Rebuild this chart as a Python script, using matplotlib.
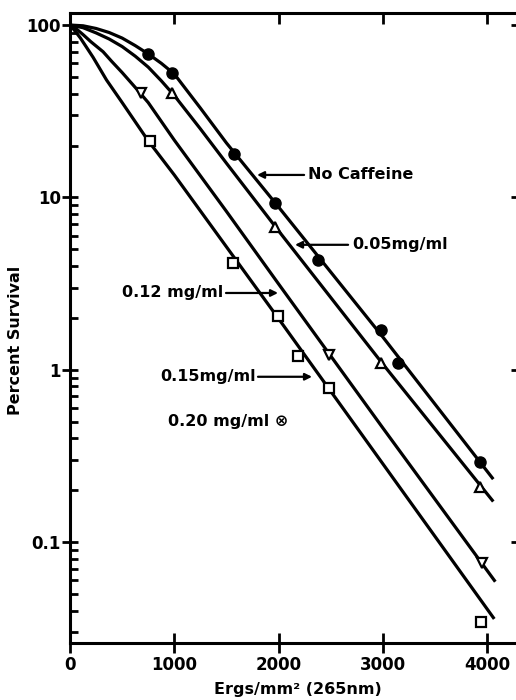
import numpy as np
import matplotlib
matplotlib.use("Agg")
import matplotlib.pyplot as plt
from matplotlib.ticker import FixedLocator, NullFormatter, LogLocator

# measured points (dose in ergs/mm2, percent survival)
dose_none = [750, 980, 1575, 1965, 2380, 2985, 3150, 3935]
surv_none = [68, 52.5, 17.9, 9.3, 4.35, 1.71, 1.1, 0.29]

dose_005 = [980, 1965, 2985, 3935]
surv_005 = [40.4, 6.75, 1.1, 0.21]

dose_012 = [680, 2485, 3955]
surv_012 = [40.4, 1.22, 0.076]

dose_015 = [770, 1565, 1995, 2190, 2485, 3945]
surv_015 = [21.3, 4.17, 2.05, 1.2, 0.78, 0.0346]

# fitted curves
curve_none_x = [0, 125, 250, 375, 500, 625, 750, 875, 1000, 1250, 1500, 2000, 3000, 4050]
curve_none_y = [100, 99, 95.5, 90.5, 84, 76, 68, 60, 52, 33, 20.7, 8.8, 1.55, 0.236]
curve_005_x = [0, 125, 250, 375, 500, 625, 750, 875, 1000, 1250, 1500, 2000, 3000, 4050]
curve_005_y = [100, 96.5, 90, 83, 75, 66, 57, 47.5, 39, 25, 15.8, 6.4, 1.08, 0.175]
curve_012_x = [0, 60, 125, 200, 317, 400, 500, 625, 750, 1000, 1500, 2000, 3000, 4070]
curve_012_y = [100, 95, 88, 80, 70, 61.5, 53, 43.5, 35.5, 21.5, 8.3, 3.15, 0.46, 0.06]
curve_015_x = [0, 50, 100, 160, 221, 350, 500, 750, 1000, 2000, 3000, 4060]
curve_015_y = [100, 92, 84, 74, 65, 48, 35.5, 21.3, 13.5, 1.98, 0.285, 0.0365]

xticks = [0, 1000, 2000, 3000, 4000]
yticks = [0.1, 1, 10, 100]
ytick_labels = ["0.1", "1", "10", "100"]

plt.rcParams['font.family'] = ['DejaVu Sans']
plt.rcParams['font.weight'] = 'bold'

fig = plt.figure(figsize=(5.16, 7.0), dpi=100)
ax = fig.add_axes([0.1357, 0.0814, 0.883, 0.9])

lw = 2.3
ax.plot(curve_none_x, curve_none_y, color='black', lw=lw)
ax.plot(curve_005_x, curve_005_y, color='black', lw=lw)
ax.plot(curve_012_x, curve_012_y, color='black', lw=lw)
ax.plot(curve_015_x, curve_015_y, color='black', lw=lw)

ax.plot(dose_none, surv_none, 'o', color='black', ms=8, ls='none')
ax.plot(dose_005, surv_005, '^', mfc='white', mec='black', mew=1.6, ms=7, ls='none')
ax.plot(dose_012, surv_012, 'v', mfc='white', mec='black', mew=1.6, ms=7, ls='none')
ax.plot(dose_015, surv_015, 's', mfc='white', mec='black', mew=1.6, ms=6.5, ls='none')

ax.set_yscale('log')
ax.set_xlim(0, 4370)
ax.set_ylim(0.026, 117.4)

ax.set_xticks(xticks)
ax.set_xticklabels([str(v) for v in xticks])
ax.yaxis.set_major_locator(FixedLocator(yticks))
ax.set_yticklabels(ytick_labels)
ax.yaxis.set_minor_locator(LogLocator(base=10, subs=np.arange(2, 10)))
ax.yaxis.set_minor_formatter(NullFormatter())

for s in ax.spines.values():
    s.set_linewidth(2.2)
ax.spines['right'].set_visible(False)

ax.tick_params(axis='x', which='major', direction='inout', length=14, width=2,
               labelsize=12, pad=2)
ax.tick_params(axis='y', which='major', direction='inout', length=11, width=2,
               labelsize=12, pad=1)
ax.tick_params(axis='y', which='minor', direction='in', length=6, width=2)

# inward ticks on top and right
top = ax.twiny()
top.set_xlim(ax.get_xlim())
top.set_xticks(xticks[1:])
top.tick_params(axis='x', direction='in', length=8, width=2, labeltop=False)
right = ax.twinx()
right.set_yscale('log')
right.set_ylim(ax.get_ylim())
right.yaxis.set_major_locator(FixedLocator(yticks))
right.yaxis.set_minor_locator(FixedLocator([]))
right.tick_params(axis='y', direction='in', length=11, width=2, labelright=False)
for a in (top, right):
    for s in a.spines.values():
        s.set_visible(False)

ax.set_ylabel('Percent Survival', fontsize=11.5, fontweight='bold')
ax.yaxis.set_label_coords(-0.103, 0.481)
ax.set_xlabel('Ergs/mm² (265nm)', fontsize=11.5, fontweight='bold', labelpad=6)

arrow = dict(arrowstyle='-|>', color='black', lw=1.6, mutation_scale=10,
             shrinkA=0, shrinkB=0)
fs = 11.5
ax.annotate('', xy=(1794, 13.5), xytext=(2245, 13.5), arrowprops=arrow)
ax.text(2283, 13.5, 'No Caffeine', fontsize=fs, fontweight='bold', va='center', ha='left')

ax.annotate('', xy=(2158, 5.31), xytext=(2667, 5.31), arrowprops=arrow)
ax.text(2705, 5.31, '0.05mg/ml', fontsize=fs, fontweight='bold', va='center', ha='left')

ax.annotate('', xy=(1995, 2.79), xytext=(1496, 2.79), arrowprops=arrow)
ax.text(1470, 2.79, '0.12 mg/ml', fontsize=fs, fontweight='bold', va='center', ha='right')

ax.annotate('', xy=(2321, 0.911), xytext=(1803, 0.911), arrowprops=arrow)
ax.text(1780, 0.911, '0.15mg/ml', fontsize=fs, fontweight='bold', va='center', ha='right')

ax.text(940, 0.50, '0.20 mg/ml ⊗', fontsize=fs, fontweight='bold', va='center', ha='left')

fig.savefig('out.png', dpi=100)
